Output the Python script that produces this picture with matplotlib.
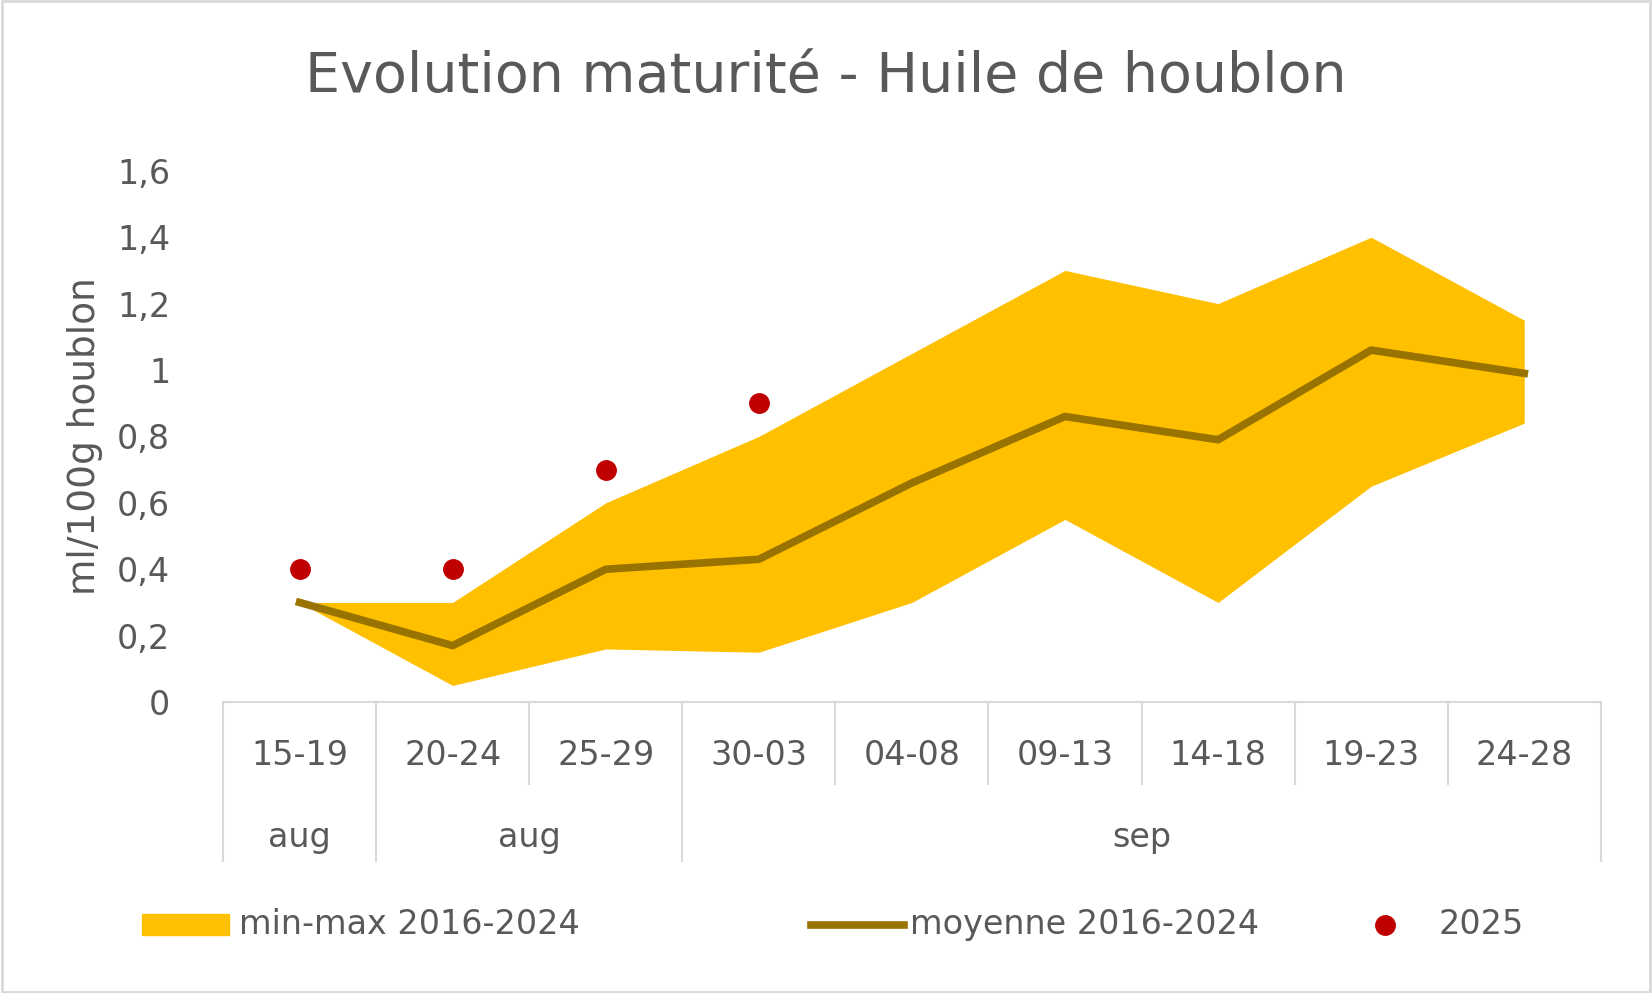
import matplotlib.pyplot as plt
from matplotlib.lines import Line2D
from matplotlib.patches import Rectangle

categories = ["15-19", "20-24", "25-29", "30-03", "04-08", "09-13", "14-18", "19-23", "24-28"]
groups = [("aug", 0, 1), ("aug", 1, 3), ("sep", 3, 9)]
band_max = [0.3, 0.3, 0.6, 0.8, 1.05, 1.3, 1.2, 1.4, 1.15]
band_min = [0.3, 0.05, 0.16, 0.15, 0.3, 0.55, 0.3, 0.65, 0.84]
moyenne = [0.3, 0.17, 0.4, 0.43, 0.66, 0.86, 0.79, 1.06, 0.99]
y2025 = [0.4, 0.4, 0.7, 0.9]
yticks = [0, 0.2, 0.4, 0.6, 0.8, 1, 1.2, 1.4, 1.6]

TXT = "#595959"
GRID = "#D9D9D9"
FS = 24
plt.rcParams["font.family"] = ["DejaVu Sans"]

fig = plt.figure(figsize=(16.52, 9.93), dpi=100)
ax = fig.add_axes([0.135, 0.293, 0.834, 0.535])
x = list(range(len(categories)))
ax.fill_between(x, band_min, band_max, color="#FFC000", linewidth=0)
ax.plot(x, moyenne, color="#997300", linewidth=5.5)
ax.plot(x[:len(y2025)], y2025, "o", color="#C00000", markersize=14)
ax.set_xlim(-0.5, len(categories) - 0.5)
ax.set_ylim(0, 1.6)
ax.set_yticks(yticks)
ax.set_yticklabels([f"{v:g}".replace(".", ",") for v in yticks])
ax.tick_params(axis="y", length=0, labelsize=FS, labelcolor=TXT, pad=38)
ax.set_xticks([])
for s in ["top", "right", "left"]:
    ax.spines[s].set_visible(False)
ax.spines["bottom"].set_color(GRID)
ax.spines["bottom"].set_linewidth(1.5)
ax.set_ylabel("ml/100g houblon", fontsize=27, color=TXT, labelpad=10)

# two-level category axis
bounds = {g[1] for g in groups} | {g[2] for g in groups}
tr = ax.get_xaxis_transform()
for i in range(len(categories) + 1):
    low = -0.30 if i in bounds else -0.155
    ax.add_line(Line2D([i - 0.5, i - 0.5], [0, low], transform=tr, color=GRID, lw=1.5, clip_on=False))
for i, c in enumerate(categories):
    ax.text(i, -0.10, c, transform=tr, ha="center", va="center", fontsize=FS, color=TXT)
for name, a, b in groups:
    ax.text((a + b - 1) / 2, -0.255, name, transform=tr, ha="center", va="center", fontsize=FS, color=TXT)

fig.text(0.5, 0.922, "Evolution maturité - Huile de houblon", ha="center", va="center", fontsize=40, color=TXT)

# legend
ly = 1 - 878 / 943
fig.add_artist(Rectangle((135 / 1568, ly - 0.011), 82 / 1568, 0.022, transform=fig.transFigure, color="#FFC000"))
fig.text(227 / 1568, ly, "min-max 2016-2024", va="center", fontsize=FS, color=TXT)
fig.add_artist(Line2D([770 / 1568, 858 / 1568], [ly, ly], transform=fig.transFigure, color="#997300", lw=5.5))
fig.text(864 / 1568, ly, "moyenne 2016-2024", va="center", fontsize=FS, color=TXT)
fig.add_artist(Line2D([1315 / 1568], [ly], transform=fig.transFigure, marker="o", color="#C00000", markersize=14))
fig.text(1365 / 1568, ly, "2025", va="center", fontsize=FS, color=TXT)

fig.add_artist(Rectangle((0.001, 0.001), 0.998, 0.998, transform=fig.transFigure, fill=False, edgecolor=GRID, lw=2))
fig.savefig("out.png", dpi=100)
